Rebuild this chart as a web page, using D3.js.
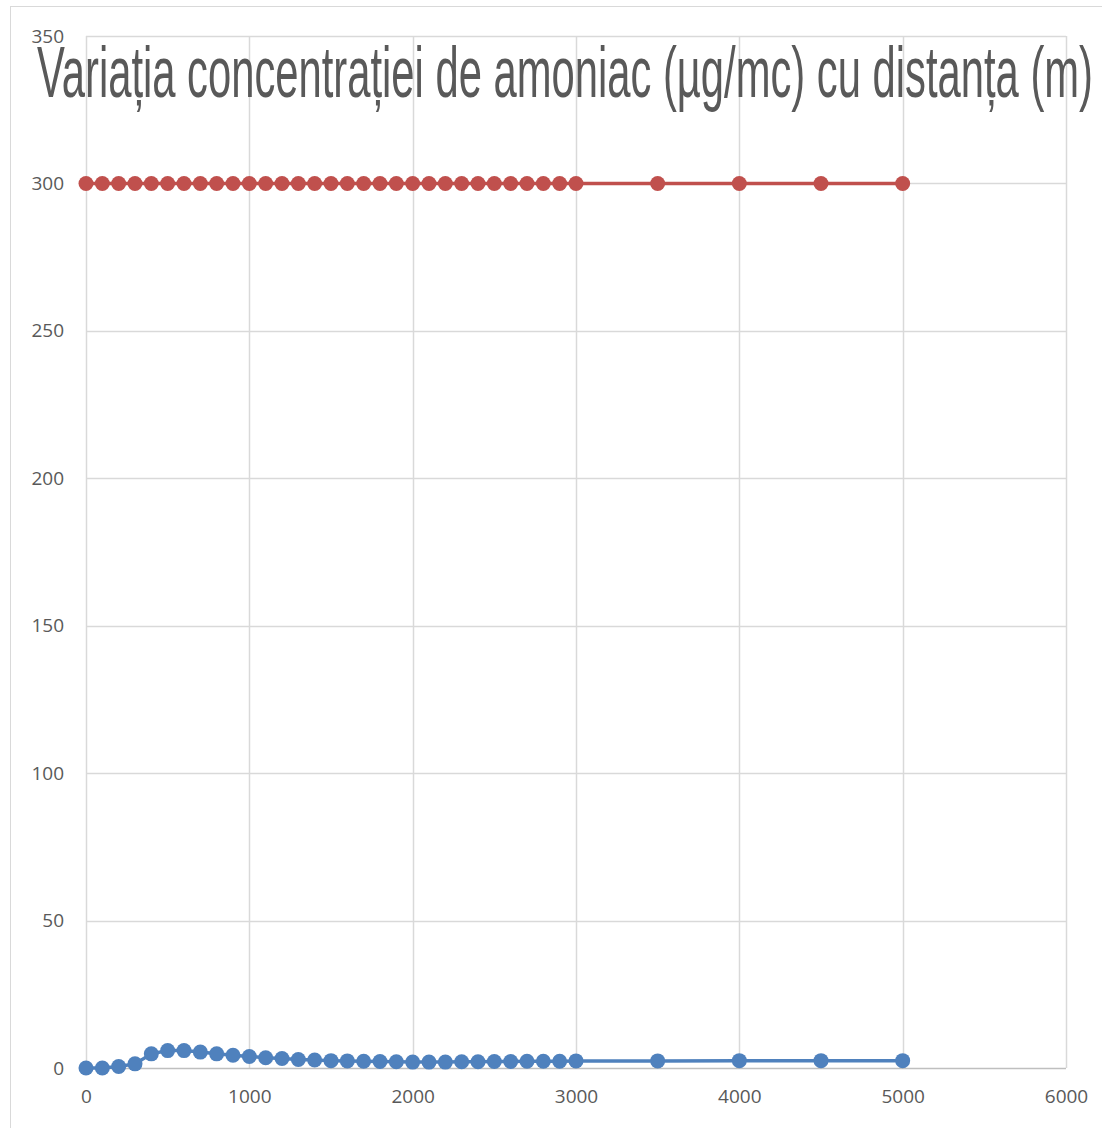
<!DOCTYPE html>
<html>
<head>
<meta charset="utf-8">
<script src="https://cdn.jsdelivr.net/npm/d3@7"></script>
<style>
  html, body { margin: 0; padding: 0; background: #fff; }
  svg { display: block; }
</style>
</head>
<body>
<div id="chart"></div>
<script>
const distances = [0, 100, 200, 300, 400, 500, 600, 700, 800, 900, 1000, 1100, 1200, 1300, 1400, 1500,
  1600, 1700, 1800, 1900, 2000, 2100, 2200, 2300, 2400, 2500, 2600, 2700, 2800, 2900, 3000,
  3500, 4000, 4500, 5000];
const concentration = [0, 0, 0.5, 1.4, 4.8, 5.9, 5.9, 5.4, 4.8, 4.3, 3.9, 3.5, 3.2, 2.9, 2.7, 2.5,
  2.4, 2.3, 2.2, 2.1, 2.0, 2.0, 2.0, 2.1, 2.1, 2.2, 2.2, 2.3, 2.3, 2.3, 2.4,
  2.4, 2.5, 2.5, 2.5];
const limitValue = [300, 300, 300, 300, 300, 300, 300, 300, 300, 300, 300, 300, 300, 300, 300, 300,
  300, 300, 300, 300, 300, 300, 300, 300, 300, 300, 300, 300, 300, 300, 300,
  300, 300, 300, 300];
const xTicks = [0, 1000, 2000, 3000, 4000, 5000, 6000];
const yTicks = [0, 50, 100, 150, 200, 250, 300, 350];
const titleText = 'Variația concentrației de amoniac (µg/mc) cu distanța (m)';

const width = 1102, height = 1128;
const svg = d3.select('#chart').append('svg')
  .attr('width', width)
  .attr('height', height);

// outer chart frame (only top / left visible in the crop)
svg.append('rect')
  .attr('x', 10.5).attr('y', 6.5)
  .attr('width', 1200).attr('height', 1200)
  .attr('fill', 'none')
  .attr('stroke', '#d9d9d9');

const x = d3.scaleLinear().domain([0, 6000]).range([86, 1066]);
const y = d3.scaleLinear().domain([0, 350]).range([1068, 36]);

const grid = svg.append('g');
grid.selectAll('line.h')
  .data(yTicks.slice(1))
  .enter().append('line')
  .attr('class', 'h')
  .attr('x1', x(0)).attr('x2', x(6000))
  .attr('y1', d => Math.round(y(d)) + 0.5)
  .attr('y2', d => Math.round(y(d)) + 0.5)
  .attr('stroke', '#d9d9d9').attr('stroke-width', 1.5);
grid.selectAll('line.v')
  .data(xTicks)
  .enter().append('line')
  .attr('class', 'v')
  .attr('y1', y(0)).attr('y2', y(350))
  .attr('x1', d => Math.round(x(d)) + 0.5)
  .attr('x2', d => Math.round(x(d)) + 0.5)
  .attr('stroke', '#d9d9d9').attr('stroke-width', 1.5);

// x axis line
svg.append('line')
  .attr('x1', x(0)).attr('x2', x(6000))
  .attr('y1', y(0) + 0.5).attr('y2', y(0) + 0.5)
  .attr('stroke', '#bfbfbf').attr('stroke-width', 1.5);

const xAxis = d3.axisBottom(x).tickValues(xTicks).tickFormat(d3.format('d'))
  .tickSize(0).tickPadding(22);
svg.append('g')
  .attr('transform', `translate(0,${y(0)})`)
  .call(xAxis)
  .call(g => g.select('.domain').remove())
  .selectAll('text')
  .attr('font-family', '"Open Sans", sans-serif')
  .attr('font-size', 19)
  .attr('fill', '#595959');

const yAxis = d3.axisLeft(y).tickValues(yTicks).tickFormat(d3.format('d'))
  .tickSize(0).tickPadding(22);
svg.append('g')
  .attr('transform', `translate(${x(0)},0)`)
  .call(yAxis)
  .call(g => g.select('.domain').remove())
  .selectAll('text')
  .attr('font-family', '"Open Sans", sans-serif')
  .attr('font-size', 19)
  .attr('fill', '#595959');

const series = [
  { values: limitValue, color: '#C0504D' },
  { values: concentration, color: '#4F81BD' }
];

const line = d3.line()
  .x(d => x(d[0]))
  .y(d => y(d[1]));

for (const s of series) {
  const pts = distances.map((d, i) => [d, s.values[i]]);
  svg.append('path')
    .datum(pts)
    .attr('d', line)
    .attr('fill', 'none')
    .attr('stroke', s.color)
    .attr('stroke-width', 3.5);
  svg.append('g').selectAll('circle')
    .data(pts)
    .enter().append('circle')
    .attr('cx', d => x(d[0]))
    .attr('cy', d => y(d[1]))
    .attr('r', 7.5)
    .attr('fill', s.color);
}

// title drawn over the plot, horizontally squeezed like the original
svg.append('text')
  .attr('x', 37)
  .attr('y', 97)
  .attr('font-family', '"Liberation Sans", Arial, sans-serif')
  .attr('font-size', 72)
  .attr('fill', '#595959')
  .attr('textLength', 1056)
  .attr('lengthAdjust', 'spacingAndGlyphs')
  .text(titleText);
</script>
</body>
</html>
